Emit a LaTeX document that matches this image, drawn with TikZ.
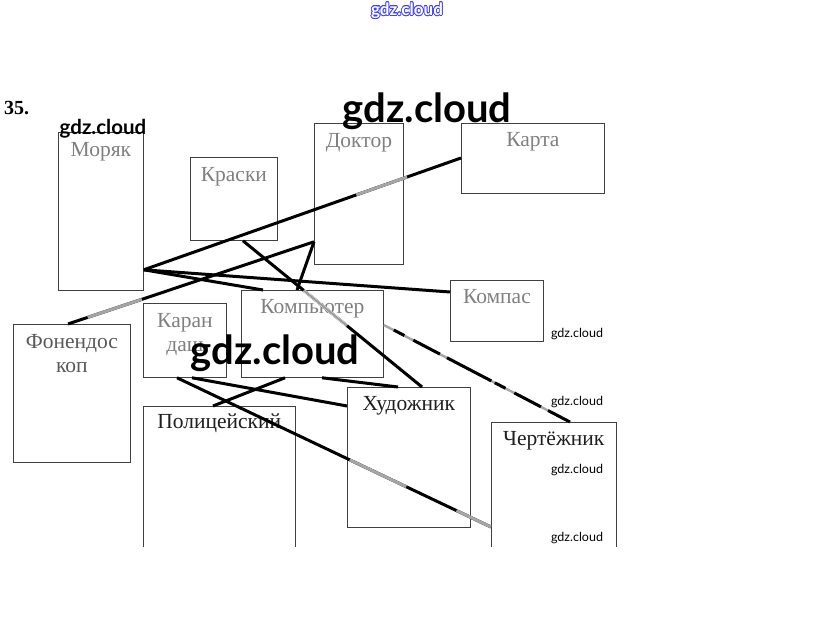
\documentclass[tikz,border=0pt]{standalone}
\usepackage{fontspec}
\setmainfont{Liberation Serif}
\newfontfamily\wm{Lato}
\usepackage{contour}
\contourlength{0.7pt}
\usetikzlibrary{calc}
\tikzset{
  box/.style={draw=black!75, line width=0.8pt, inner sep=0pt, anchor=north west},
  openbox/.style={inner sep=0pt, anchor=north west},
  lbl/.style={font=\fontsize{21.5}{24}\selectfont, anchor=base, inner sep=0pt},
  faint/.style={text=black!50},
  dark/.style={text=black!88},
  conn/.style={line width=3pt, draw=black},
  grayseg/.style={line width=3pt, draw=black!35},
  wmsmall/.style={font=\wm\fontsize{12.5}{14}\selectfont, inner sep=0pt},
  wmmid/.style={font=\wm\bfseries\fontsize{20.5}{22}\selectfont, inner sep=0pt},
  wmbig/.style={font=\wm\bfseries\fontsize{40}{44}\selectfont, inner sep=0pt},
}
\begin{document}
\begin{tikzpicture}[x=1pt,y=-1pt]
\fill[white] (0,0) rectangle (815,644);
\useasboundingbox (0,0) rectangle (815,644);

% boxes
\node[box, minimum width=85pt,  minimum height=158pt] (morjak) at (58,132) {};
\node[box, minimum width=87pt,  minimum height=83pt]  (kraski) at (190,157) {};
\node[box, minimum width=89pt,  minimum height=141pt] (doktor) at (314,123) {};
\node[box, minimum width=143pt, minimum height=70pt]  (karta)  at (461,123) {};
\node[box, minimum width=93pt,  minimum height=61pt]  (kompas) at (450,280) {};
\node[box, minimum width=142pt, minimum height=87pt]  (komp)   at (241,290) {};
\node[box, minimum width=83pt,  minimum height=74pt]  (karand) at (143,303) {};
\node[box, minimum width=117pt, minimum height=138pt] (fonen)  at (13,324) {};
\node[openbox, minimum width=152pt, minimum height=141pt] (polic) at (143,406) {};
\node[box, minimum width=123pt, minimum height=140pt] (hudozh) at (347,387) {};
\node[openbox, minimum width=125pt, minimum height=125pt] (chert) at (491,422) {};
\draw[draw=black!75, line width=0.8pt] (polic.south west) -- (polic.north west) -- (polic.north east) -- (polic.south east);
\draw[draw=black!75, line width=0.8pt] (chert.south west) -- (chert.north west) -- (chert.north east) -- (chert.south east);

% labels
\node[lbl,faint] (tmorjak) at ([yshift=-25pt]morjak.north) {Моряк};
\node[lbl,faint] (tkraski) at ([yshift=-25pt]kraski.north) {Краски};
\node[lbl,faint] (tdoktor) at ([yshift=-25pt]doktor.north) {Доктор};
\node[lbl,faint] (tkarta)  at ([yshift=-24pt]karta.north)  {Карта};
\node[lbl,faint] (tkompas) at ([yshift=-24pt]kompas.north) {Компас};
\node[lbl,faint] (tkomp)   at ([yshift=-24pt]komp.north)   {Компьютер};
\node[lbl,faint] (tkar1)   at ([yshift=-25pt]karand.north) {Каран};
\node[lbl,faint] (tkar2)   at ([yshift=-49pt]karand.north) {даш};
\node[lbl,text=black!65] (tfon1) at ([yshift=-25pt]fonen.north) {Фонендос};
\node[lbl,text=black!65] (tfon2) at ([yshift=-49pt]fonen.north) {коп};
\node[lbl,dark] (tpolic)  at ([yshift=-23pt]polic.north)  {Полицейский};
\node[lbl,dark] (thudozh) at ([yshift=-24pt]hudozh.north) {Художник};
\node[lbl,dark] (tchert)  at ([yshift=-24pt]chert.north)  {Чертёжник};

% connection points
\coordinate (mj) at ([yshift=21pt]morjak.south east);
\coordinate (kt) at ([yshift=-35pt]karta.north west);
\coordinate (ks) at ([yshift=-12pt]kompas.north west);
\coordinate (kpA) at ([xshift=22pt]komp.north west);
\coordinate (fn) at ([xshift=55pt]fonen.north west);
\coordinate (dk) at ([yshift=23pt]doktor.south west);
\coordinate (kr) at ([xshift=53pt]kraski.south west);
\coordinate (hdA) at ([xshift=75pt]hudozh.north west);
\coordinate (kpB) at ([xshift=56pt]komp.north west);
\coordinate (kdA) at ([xshift=34pt]karand.south west);
\coordinate (chA) at ([yshift=-105pt]chert.north west);
\coordinate (kdB) at ([xshift=49pt]karand.south west);
\coordinate (hdB) at ([yshift=-19pt]hudozh.north west);
\coordinate (kpC) at ([xshift=44pt]komp.south west);
\coordinate (pl)  at ([xshift=70pt]polic.north west);
\coordinate (kpD) at ([xshift=81pt]komp.south west);
\coordinate (hdC) at ([xshift=51pt]hudozh.north west);
\coordinate (kpE) at ([yshift=-35pt]komp.north east);
\coordinate (chB) at ([xshift=79pt]chert.north west);

% connectors
\draw[conn] (mj) -- (kt);
\draw[grayseg] ($(mj)!0.67!(kt)$) -- ($(mj)!0.83!(kt)$);
\draw[conn] (mj) -- (ks);
\draw[conn] (mj) -- (kpA);
\draw[conn] (fn) -- (dk);
\draw[grayseg] ($(fn)!0.08!(dk)$) -- ($(fn)!0.3!(dk)$);
\draw[conn] (kr) -- (hdA);
\draw[line width=3pt, draw=white] ($(kr)!0.34!(hdA)$) -- ($(kr)!0.58!(hdA)$);
\draw[line width=2pt, draw=black!40] ($(kr)!0.34!(hdA)$) -- ($(kr)!0.58!(hdA)$);
\draw[conn] (dk) -- (kpB);
\draw[conn] (kdA) -- (chA);
\draw[grayseg] ($(kdA)!0.55!(chA)$) -- ($(kdA)!0.73!(chA)$);
\draw[grayseg] ($(kdA)!0.89!(chA)$) -- (chA);
\draw[conn] (kdB) -- (hdB);
\draw[conn] (kpC) -- (pl);
\draw[conn] (kpD) -- (hdC);
\draw[grayseg, line width=2.4pt] (kpE) -- (chB);
\draw[conn, dash pattern=on 12pt off 10pt on 30pt off 8pt on 50pt off 4pt] ([shift={(10,5)}]kpE) -- (chB);

% watermarks
\node[font=\wm\bfseries\fontsize{17}{20}\selectfont, inner sep=0pt] (wm0) at (407,11) {\contour{blue!75!white}{\textcolor{white}{gdz.cloud}}};
\node[wmbig] (wm1) at (427,111) {gdz.cloud};
\node[wmbig] (wm2) at (275,353) {gdz.cloud};
\node[wmmid] (wm3) at (103,129) {gdz.cloud};
\node[wmsmall] (wm4) at (577,334) {gdz.cloud};
\node[wmsmall] (wm5) at (577,402) {gdz.cloud};
\node[wmsmall] (wm6) at (577,470) {gdz.cloud};
\node[wmsmall] (wm7) at (577,538) {gdz.cloud};

\node[font=\bfseries\fontsize{20}{24}\selectfont, anchor=base west, inner sep=0pt] (num) at (4,115) {35.};
\end{tikzpicture}
\end{document}
